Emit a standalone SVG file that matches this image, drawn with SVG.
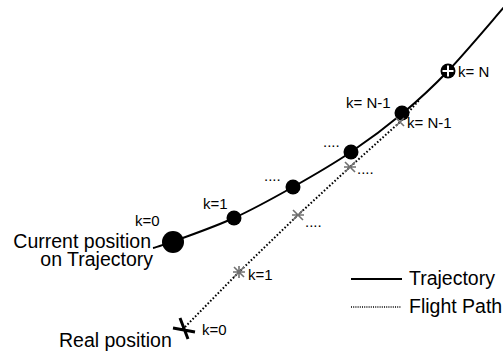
<svg xmlns="http://www.w3.org/2000/svg" width="503" height="354" viewBox="0 0 503 354">
<style>
text{font-family:"Liberation Sans",Arial,sans-serif;fill:#000}
.big{font-size:19.5px}
.sm{font-size:15px}
.traj{fill:none;stroke:#000;stroke-width:2}
.fp{fill:none;stroke:#000;stroke-width:2;stroke-dasharray:1.6 2}
.star{stroke:#707070;stroke-width:1.6;fill:none}
.dot{fill:#000}
</style>
<rect width="503" height="354" fill="#fff"/>
<g id="connectors">
<path id="trajectory" class="traj" d="M153,248 C158,247 165,244 172,242 C185.7,236.8 213.8,227.2 234,218 C254.2,208.8 273.5,198 293,187 C312.5,176 332.7,164.3 351,152 C369.3,139.7 386.8,126.5 403,113 C419.2,99.5 431,88.8 448,71 C465,53.2 495.5,16.8 505,6"/>
<path id="flightpath" class="fp" d="M185,327 L239,272 L298,215 L350,167 L400,122 L420,99"/>
</g>
<g id="node-k0-traj"><circle class="dot" cx="173" cy="242" r="11"/><text class="sm" x="135" y="226">k=0</text></g>
<g id="node-k1-traj"><circle class="dot" cx="234" cy="218" r="7.5"/><text class="sm" x="203" y="209">k=1</text></g>
<g id="node-k2-traj"><circle class="dot" cx="293" cy="187" r="7.5"/><text class="sm" x="264" y="181">....</text></g>
<g id="node-k3-traj"><circle class="dot" cx="351" cy="152" r="7.5"/><text class="sm" x="323" y="147">....</text></g>
<g id="node-kN1-traj"><circle class="dot" cx="402" cy="113" r="7.5"/><text class="sm" x="346" y="108">k= N-1</text></g>
<g id="node-kN"><circle class="dot" cx="448" cy="71" r="7.5"/><path d="M448,65.5 L448,76.5 M442.5,71 L453.5,71" stroke="#fff" stroke-width="2"/><text class="sm" x="458" y="77">k= N</text></g>
<g id="node-k0-real"><path d="M180,318 L188,339 M173,328 L195,332" stroke="#000" stroke-width="3" fill="none"/><text class="sm" x="202" y="335">k=0</text></g>
<g id="node-k1-fp"><path class="star" d="M234,267 L244,277 M234,277 L244,267 M233,272 L245,272 M239,266 L239,278"/><text class="sm" x="248" y="280">k=1</text></g>
<g id="node-k2-fp"><path class="star" d="M293,210 L303,220 M293,220 L303,210 M292,215 L304,215"/><text class="sm" x="305" y="227">....</text></g>
<g id="node-k3-fp"><path class="star" d="M345,162 L355,172 M345,172 L355,162 M344,167 L356,167"/><text class="sm" x="357" y="174">....</text></g>
<g id="node-kN1-fp"><path class="star" d="M396,118 L404,126 M396,126 L404,118"/><text class="sm" x="407" y="128">k= N-1</text></g>
<g id="labels">
<text class="big" x="151" y="248" text-anchor="end">Current position</text>
<text class="big" x="153" y="266" text-anchor="end">on Trajectory</text>
<text class="big" x="59" y="347">Real position</text>
</g>
<g id="legend">
<line class="traj" x1="351" y1="279" x2="402" y2="279"/>
<text class="big" x="409" y="285">Trajectory</text>
<line x1="351" y1="307" x2="401" y2="307" stroke="#000" stroke-width="1.5" stroke-dasharray="1 1.2"/>
<text class="big" x="409" y="313">Flight Path</text>
</g>
</svg>
